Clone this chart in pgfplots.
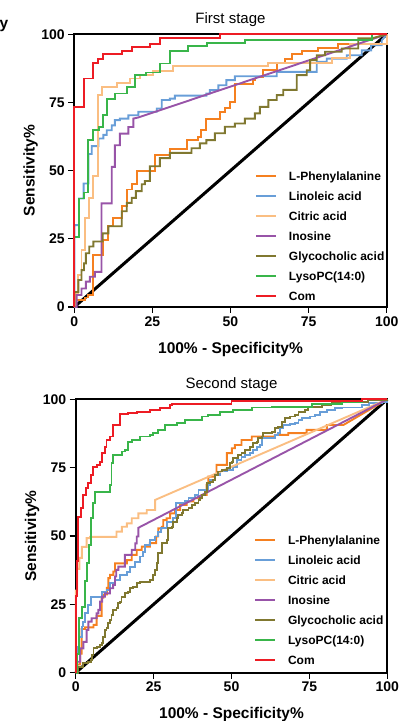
\documentclass[border=0pt]{standalone}
\usepackage{fontspec}
\setmainfont{Liberation Sans}
\usepackage{pgfplots}
\pgfplotsset{compat=1.18}
\definecolor{cRed}{RGB}{237,28,36}
\definecolor{cGreen}{RGB}{57,181,74}
\definecolor{cBlue}{RGB}{104,158,216}
\definecolor{cBeige}{RGB}{250,190,130}
\definecolor{cOrange}{RGB}{245,128,32}
\definecolor{cPurple}{RGB}{152,84,168}
\definecolor{cOlive}{RGB}{128,120,48}
\pgfplotsset{
  rocaxis/.style={
    scale only axis,
    xmin=0,xmax=100,ymin=0,ymax=100,
    xtick={0,25,50,75,100}, ytick={0,25,50,75,100},
    tick pos=left,
    tick align=outside, major tick length=6bp,
    tick style={line width=1.3bp, black},
    axis line style={line width=1.8bp, black},
    /pgf/number format/assume math mode=true,
    ticklabel style={font=\bfseries\fontsize{14bp}{14bp}\selectfont},
    every axis x label/.style={at={(axis description cs:0.5,-0.169)}, anchor=base},
    every axis y label/.style={at={(axis description cs:-0.1274,0.5)}, rotate=90, anchor=base},
    label style={font=\bfseries\fontsize{15.5bp}{16bp}\selectfont},
    every axis title/.style={at={(axis description cs:0.5,1.04)}, anchor=base},
    title style={font=\fontsize{15bp}{16bp}\selectfont},
    xlabel={100\% - Specificity\%},
    ylabel={Sensitivity\%},
    clip=false,
    every axis plot/.append style={line width=1.9bp, line join=miter},
    legend cell align=left,
    legend image code/.code={\draw[#1] (0bp,0bp) -- (20bp,0bp);},
  }
}
\begin{document}
\begin{tikzpicture}
\useasboundingbox (0,0) rectangle (406bp,721bp);
\node[anchor=base west, inner sep=0pt, font=\bfseries\fontsize{15.5bp}{16bp}\selectfont] at (-0.5bp,692.5bp) {y};
% ---------------- First stage ----------------
\begin{axis}[rocaxis, at={(74.3bp,414bp)}, anchor=south west,
  width=312.4bp, height=272.7bp, title={First stage},
  legend style={draw=none, fill=none, at={(rel axis cs:0.578,0.501)}, anchor=north west,
    inner sep=0pt, row sep=9.5bp, font=\bfseries\fontsize{12bp}{12bp}\selectfont,
    nodes={inner sep=0pt, text height=9.5bp, text depth=1bp},
    /tikz/every odd column/.append style={column sep=12bp}}]
\addplot[black, line width=3bp, forget plot] coordinates {(0,0) (100,100)};
% L-Phenylalanine
\addplot[cOrange] coordinates {(0,0) (0,2.5) (3.4,2.5) (3.4,3.5) (4.5,3.5) (4.5,4.3) (5.9,4.3) (5.9,19.1) (9.1,19.1) (9.1,24.6) (10.9,24.6) (10.9,29.6) (12.5,29.6) (12.5,32.6) (15.2,32.6) (15.2,36.9) (16.8,36.9) (16.8,43.1) (18.4,43.1) (18.4,45) (20,45) (20,49.9) (25.8,49.9) (25.8,55.9) (30.6,55.9) (30.6,58) (36,58) (36,61.2) (39.7,61.2) (39.7,62.4) (40.7,62.4) (40.7,64.8) (42.3,64.8) (42.3,69.1) (46.6,69.1) (46.6,71.5) (48.2,71.5) (48.2,73.1) (49.8,73.1) (49.8,75.2) (51.4,75.2) (51.4,81.9) (57.3,81.9) (57.3,83.2) (58,83.2) (58,84.4) (60.5,84.4) (60.5,86.8) (64.8,86.8) (64.8,89.5) (67.4,89.5) (67.4,91.1) (69.6,91.1) (69.6,92.7) (72.8,92.7) (72.8,93.9) (78.1,93.9) (78.1,95.1) (84.5,95.1) (84.5,96.6) (100,96.6) (100,100)};
\addlegendentry{L-Phenylalanine}
% Linoleic acid
\addplot[cBlue] coordinates {(0,0) (0,30) (1.5,30) (1.5,39.8) (3,39.8) (3,45.3) (4.5,45.3) (4.5,56.1) (5.6,56.1) (5.6,59) (7.7,59) (7.7,61.8) (9.3,61.8) (9.3,63.1) (10.4,63.1) (10.4,64.8) (12,64.8) (12,66.6) (13,66.6) (13,68.5) (14.6,68.5) (14.6,69.1) (17.3,69.1) (17.3,70.3) (20.5,70.3) (20.5,71.6) (26.4,71.6) (26.4,72.8) (28,72.8) (28,75.9) (30.6,75.9) (30.6,76.4) (32.2,76.4) (32.2,77.5) (42.3,77.5) (42.3,78.3) (43.4,78.3) (43.4,79.5) (46.1,79.5) (46.1,81.3) (48.7,81.3) (48.7,83.2) (51.4,83.2) (51.4,84.6) (64.8,84.6) (64.8,86.2) (77.6,86.2) (77.6,89.9) (80.8,89.9) (80.8,91.1) (87.2,91.1) (87.2,92.3) (92,92.3) (92,94.1) (95,94.1) (95,96) (98.4,96) (98.4,97.8) (100,100)};
\addlegendentry{Linoleic acid}
% Citric acid
\addplot[cBeige] coordinates {(0,0) (0.5,0) (0.5,5) (1.3,5) (1.3,11.7) (2.3,11.7) (2.3,20.9) (3.4,20.9) (3.4,32.6) (4.8,32.6) (4.8,40) (6.1,40) (6.1,48) (7.5,48) (7.5,77.7) (9,77.7) (9,80.7) (13.6,80.7) (13.6,82.2) (17.8,82.2) (17.8,83.8) (21,83.8) (21,85.2) (25.3,85.2) (25.3,86.6) (31.7,86.6) (31.7,88.3) (62.1,88.3) (62.1,89.5) (82.4,89.5) (82.4,91.2) (88.3,91.2) (88.3,96.5) (100,96.5) (100,100)};
\addlegendentry{Citric acid}
% Inosine
\addplot[cPurple] coordinates {(0,0) (0.76,0) (0.76,4.4) (2.3,4.4) (2.3,6.8) (3.7,6.8) (3.7,9.3) (5,9.3) (5,11.1) (6.6,11.1) (6.6,12.9) (8.7,12.9) (8.7,38) (12,38) (12,51.4) (13,51.4) (13,59.3) (14.6,59.3) (14.6,63.6) (17.3,63.6) (17.3,66) (18.9,66) (18.9,69.1) (20.5,69.5) (100,100)};
\addlegendentry{Inosine}
% Glycocholic acid
\addplot[cOlive] coordinates {(0,0) (0,5.5) (1.3,5.5) (1.3,9.9) (2.3,9.9) (2.3,13.5) (3.1,13.5) (3.1,16) (3.7,16) (3.7,19.7) (4.8,19.7) (4.8,22.2) (6.1,22.2) (6.1,24) (9.1,24) (9.1,27) (10.9,27) (10.9,29.6) (15.2,29.6) (15.2,35.1) (16.8,35.1) (16.8,38.2) (18.4,38.2) (18.4,40) (19.7,40) (19.7,42.5) (21.6,42.5) (21.6,45) (22.6,45) (22.6,46.2) (24.2,46.2) (24.2,51.6) (27.4,51.6) (27.4,54.6) (30.6,54.6) (30.6,56.5) (37.5,56.5) (37.5,58.2) (40.2,58.2) (40.2,60) (42.3,60) (42.3,61.2) (45,61.2) (45,63.7) (48.2,63.7) (48.2,66.1) (51.4,66.1) (51.4,67.3) (54.6,67.3) (54.6,69.1) (57.8,69.1) (57.8,71) (59.4,71) (59.4,73.4) (62.1,73.4) (62.1,75.9) (64.8,75.9) (64.8,77.7) (66.9,77.7) (66.9,79.6) (71.2,79.6) (71.2,85) (74.4,85) (74.4,86.8) (75.5,86.8) (75.5,90.5) (77.6,90.5) (77.6,92.3) (80.3,92.3) (80.3,93.6) (85.6,93.6) (85.6,94.8) (90.9,94.8) (90.9,98.5) (95.2,98.5) (100,100)};
\addlegendentry{Glycocholic acid}
% LysoPC(14:0)
\addplot[cGreen] coordinates {(0,0) (0,25.8) (1.6,25.8) (1.6,39.8) (3,39.8) (3,42) (4.5,42) (4.5,61.4) (5.9,61.4) (5.9,64.8) (8,64.8) (8,66) (9.3,66) (9.3,70.3) (10.6,70.3) (10.6,76.4) (13,76.4) (13,78.3) (16.8,78.3) (16.8,80.7) (19.4,80.7) (19.4,85.2) (23,85.2) (23,86) (27.4,86) (27.4,89.3) (30.6,89.3) (30.6,93.9) (36.5,93.9) (36.5,95.6) (42.4,95.6) (42.4,96.8) (54.6,96.8) (54.6,98) (95.2,98) (95.2,100) (100,100)};
\addlegendentry{LysoPC(14:0)}
% Com
\addplot[cRed] coordinates {(0,0) (0,73.5) (3,73.5) (3,83.8) (6.1,83.8) (6.1,89.6) (7.7,89.6) (7.7,91.1) (9.3,91.1) (9.3,92.7) (15.2,92.7) (15.2,93.9) (18.4,93.9) (18.4,95.4) (24.2,95.4) (24.2,96.6) (27.4,96.6) (27.4,98.8) (46.6,98.8) (46.6,100) (100,100)};
\addlegendentry{Com}
\end{axis}
% ---------------- Second stage ----------------
\begin{axis}[rocaxis, at={(75.7bp,48.3bp)}, anchor=south west,
  width=311.6bp, height=273.4bp, title={Second stage},
  legend style={draw=none, fill=none, at={(rel axis cs:0.572,0.504)}, anchor=north west,
    inner sep=0pt, row sep=9.5bp, font=\bfseries\fontsize{12bp}{12bp}\selectfont,
    nodes={inner sep=0pt, text height=9.5bp, text depth=1bp},
    /tikz/every odd column/.append style={column sep=12bp}}]
\addplot[black, line width=3bp, forget plot] coordinates {(0,0) (100,100)};
% L-Phenylalanine
\addplot[cOrange] coordinates {(0,0) (0.5,0) (0.5,3) (1.4,3) (1.4,7) (1.9,7) (1.9,16) (3,16) (3,16.6) (5.7,16.6) (5.7,17.5) (6.7,17.5) (6.7,20.8) (8.3,20.8) (8.3,27.4) (8.9,27.4) (8.9,28.6) (10,28.6) (10,31) (10.5,31) (10.5,34.6) (11,34.6) (11,35.8) (12.1,35.8) (12.1,37) (12.6,37) (12.6,40) (16.4,40) (16.4,41.2) (18,41.2) (18,43.1) (19.6,43.1) (19.6,44.9) (21.2,44.9) (21.2,46.1) (23.8,46.1) (23.8,47.4) (25.8,47.4) (25.8,49.8) (26.5,49.8) (26.5,52.8) (27.6,52.8) (27.6,53.4) (28.1,53.4) (28.1,55.8) (29.2,55.8) (29.2,56.5) (30.3,56.5) (30.3,58.3) (31.9,58.3) (31.9,59.5) (33.5,59.5) (33.5,61.4) (35.6,61.4) (35.6,62.6) (37.8,62.6) (37.8,63.8) (40.4,63.8) (40.4,65) (42,65) (42,68.7) (42.6,68.7) (42.6,71.7) (44.7,71.7) (44.7,72.4) (45.2,72.4) (45.2,76) (48.5,76) (48.5,80.3) (50.1,80.3) (50.1,82.1) (51.1,82.1) (51.1,83.3) (53.2,83.3) (53.2,85.1) (56.5,85.1) (56.5,86.4) (63.9,86.4) (63.9,87) (68.2,87) (68.2,87.6) (74.1,87.6) (74.1,88.8) (80.6,88.8) (80.6,90.6) (85.9,90.6) (100,100)};
\addlegendentry{L-Phenylalanine}
% Linoleic acid
\addplot[cBlue] coordinates {(0,0) (0.3,0) (0.3,5.9) (0.52,5.9) (0.52,9.5) (1.17,9.5) (1.17,13.2) (1.9,13.2) (1.9,16.9) (2.45,16.9) (2.45,18.7) (3,18.7) (3,21.7) (4.06,21.7) (4.06,24.8) (4.8,24.8) (4.8,27.8) (8.3,27.8) (8.3,29.6) (9.9,29.6) (9.9,30.3) (11,30.3) (11,32.7) (12.6,32.7) (12.6,33.9) (14.2,33.9) (14.2,35.7) (16.4,35.7) (16.4,36.9) (17.4,36.9) (17.4,38.8) (19,38.8) (19,40.6) (20.6,40.6) (20.6,42.5) (21.5,42.5) (21.5,44.3) (22.2,44.3) (22.2,46.7) (23.8,46.7) (23.8,48.6) (25.4,48.6) (25.4,49.8) (26.5,49.8) (26.5,51.6) (27.5,51.6) (27.5,53) (29.2,53) (29.2,55.2) (31.3,55.2) (31.3,56.5) (32.2,56.5) (32.2,62) (35.1,62) (35.1,62.8) (36.2,62.8) (36.2,64) (38.3,64) (38.3,65) (39.4,65) (39.4,66.8) (42.6,66.8) (42.6,68.7) (43.1,68.7) (43.1,70.5) (44.7,70.5) (44.7,72.4) (46.3,72.4) (46.3,73.6) (48.5,73.6) (48.5,74.2) (50.6,74.2) (50.6,75.4) (51.7,75.4) (51.7,77.8) (53.2,77.8) (53.2,79) (54.3,79) (54.3,79.7) (55.9,79.7) (55.9,80.3) (57,80.3) (57,81.5) (58.1,81.5) (58.1,82.7) (59.1,82.7) (59.1,83.3) (59.7,83.3) (59.7,85.8) (62.9,85.8) (62.9,86) (63.9,86) (63.9,87) (65,87) (65,87.6) (65.6,87.6) (65.6,89.4) (66.6,89.4) (66.6,90.6) (68.8,90.6) (68.8,90.9) (70.4,90.9) (70.4,91.2) (71.5,91.2) (71.5,92.5) (72.5,92.5) (72.5,93.1) (75.2,93.1) (75.2,93.7) (76.8,93.7) (76.8,94.3) (78.4,94.3) (78.4,95.5) (80.6,95.5) (80.6,96.1) (83.2,96.1) (83.2,96.7) (85.4,96.7) (85.4,97) (91.8,97) (91.8,97.9) (94,97.9) (94,98.5) (98.2,98.5) (98.2,99) (100,99) (100,100)};
\addlegendentry{Linoleic acid}
% Citric acid
\addplot[cBeige] coordinates {(0,0) (0,30) (0.5,30) (0.5,38) (1.2,38) (1.2,42) (2,42) (2,46) (3.5,46) (3.5,49.2) (4.6,49.2) (4.6,49.7) (13.1,49.7) (13.1,51.6) (14.8,51.6) (14.8,53.4) (16.4,53.4) (16.4,54.6) (18,54.6) (18,56.5) (20.1,56.5) (20.1,58.3) (22.8,58.3) (22.8,59.5) (25.5,59.5) (25.5,63.2) (100,100)};
\addlegendentry{Citric acid}
% Inosine
\addplot[cPurple] coordinates {(0,0) (0.5,0) (0.5,4) (1.4,4) (1.4,8.9) (2.45,8.9) (2.45,11.3) (3.5,11.3) (3.5,15.6) (4.06,15.6) (4.06,18.7) (5.1,18.7) (5.1,19.9) (6.7,19.9) (6.7,21.7) (7.3,21.7) (7.3,23) (7.8,23) (7.8,26) (8.5,26) (8.5,27.8) (9.4,27.8) (9.4,29) (11,29) (11,30.9) (12,30.9) (12,32.1) (12.6,32.1) (12.6,35.2) (13,35.2) (13,37.6) (13.7,37.6) (13.7,38.8) (15.8,38.8) (15.8,43.1) (18,43.1) (18,44.9) (19.1,44.9) (19.1,47.3) (19.6,47.3) (19.6,49.8) (20.1,49.8) (20.1,53) (100,100)};
\addlegendentry{Inosine}
% Glycocholic acid
\addplot[cOlive] coordinates {(0,0) (0.85,0) (0.85,2.2) (2.45,2.2) (2.45,3.4) (4.06,3.4) (4.06,4) (4.8,4) (4.8,4.6) (5.1,4.6) (5.1,6.5) (5.7,6.5) (5.7,8.9) (6.7,8.9) (6.7,9.5) (7.8,9.5) (7.8,10.1) (8.3,10.1) (8.3,10.7) (8.9,10.7) (8.9,13.2) (9.4,13.2) (9.4,15.6) (9.9,15.6) (9.9,16.2) (10.5,16.2) (10.5,18.1) (11,18.1) (11,19.3) (11.5,19.3) (11.5,21.1) (12.1,21.1) (12.1,23) (13.1,23) (13.1,23.6) (13.7,23.6) (13.7,25.4) (14.2,25.4) (14.2,26) (14.7,26) (14.7,27.8) (15.8,27.8) (15.8,29) (16.9,29) (16.9,29.6) (17.4,29.6) (17.4,30.9) (18.5,30.9) (18.5,31.5) (19.6,31.5) (19.6,32.7) (20.6,32.7) (20.6,33.3) (23.8,33.3) (23.8,33.9) (24.9,33.9) (24.9,35.7) (25.4,35.7) (25.4,37.6) (26,37.6) (26,40) (26.5,40) (26.5,43.7) (27.6,43.7) (27.6,47.3) (29.2,47.3) (29.2,48.5) (29.7,48.5) (29.7,52.8) (30.8,52.8) (30.8,53.4) (31.3,53.4) (31.3,55.2) (32.4,55.2) (32.4,56.5) (32.9,56.5) (32.9,57.7) (34,57.7) (34,58.3) (34.5,58.3) (34.5,59.5) (36.2,59.5) (36.2,60.1) (37.2,60.1) (37.2,61.4) (38.3,61.4) (38.3,62) (39.4,62) (39.4,63.2) (40,63.2) (40,63.8) (40.4,63.8) (40.4,65) (41.5,65) (41.5,66.2) (42,66.2) (42,69.3) (43.1,69.3) (43.1,69.9) (44.2,69.9) (44.2,70.5) (44.7,70.5) (44.7,72.4) (45.8,72.4) (45.8,73.6) (46.9,73.6) (46.9,74.2) (48.5,74.2) (48.5,74.8) (49.5,74.8) (49.5,76.6) (50.1,76.6) (50.1,77.2) (50.6,77.2) (50.6,78.4) (52.2,78.4) (52.2,79.7) (53.2,79.7) (53.2,80.3) (54.3,80.3) (54.3,81.5) (55.9,81.5) (55.9,82.7) (57,82.7) (57,83.9) (58.1,83.9) (58.1,84.5) (58.6,84.5) (58.6,85.8) (59.7,85.8) (59.7,86.4) (60.2,86.4) (60.2,87.6) (62.9,87.6) (62.9,88.2) (63.9,88.2) (63.9,89.4) (65,89.4) (65,90) (66.1,90) (66.1,91.8) (67.2,91.8) (67.2,93.1) (68.8,93.1) (68.8,93.7) (70.4,93.7) (70.4,94.3) (71.5,94.3) (71.5,95.5) (73.6,95.5) (73.6,96.1) (74.6,96.1) (74.6,97.3) (78.9,97.3) (78.9,97.9) (82.1,97.9) (82.1,98.5) (84.3,98.5) (84.3,98.9) (93.9,98.9) (93.9,99.7) (100,99.7) (100,100)};
\addlegendentry{Glycocholic acid}
% LysoPC(14:0)
\addplot[cGreen] coordinates {(0,0) (0.5,0) (0.5,7) (1.1,7) (1.1,20) (1.9,20) (1.9,24) (3,24) (3,33.4) (3.5,33.4) (3.5,40) (4.4,40) (4.4,46.7) (4.8,46.7) (4.8,56.5) (5.44,56.5) (5.44,62) (6.3,62) (6.3,66.2) (11,66.2) (11,68.7) (11.5,68.7) (11.5,76.6) (12.1,76.6) (12.1,79.6) (14.8,79.6) (14.8,80.9) (15.9,80.9) (15.9,81.5) (16.9,81.5) (16.9,84.5) (18,84.5) (18,85.1) (20.6,85.1) (20.6,86.4) (23.8,86.4) (23.8,87) (24.9,87) (24.9,87.6) (26.5,87.6) (26.5,88.8) (28.6,88.8) (28.6,90.6) (32.4,90.6) (32.4,91.2) (35.1,91.2) (35.1,92.5) (40.4,92.5) (40.4,93.7) (42.6,93.7) (42.6,94.3) (46.3,94.3) (46.3,95.5) (50.6,95.5) (50.6,96.1) (56.5,96.1) (56.5,97) (62.9,97) (62.9,97.3) (75.7,97.3) (75.7,98.2) (85.4,98.2) (85.4,98.9) (91.8,98.9) (91.8,100) (100,100)};
\addlegendentry{LysoPC(14:0)}
% Com
\addplot[cRed] coordinates {(0,0) (0,28) (0.3,28) (0.3,41) (0.85,41) (0.85,57.1) (1.7,57.1) (1.7,60.1) (2.45,60.1) (2.45,65) (3.3,65) (3.3,67.4) (4.06,67.4) (4.06,69.3) (4.8,69.3) (4.8,72.3) (5.66,72.3) (5.66,75.4) (6.7,75.4) (6.7,76) (7.8,76) (7.8,77.2) (8.5,77.2) (8.5,80.3) (9.4,80.3) (9.4,82.7) (9.9,82.7) (9.9,85.1) (11,85.1) (11,86.4) (12.1,86.4) (12.1,90.6) (14.2,90.6) (14.2,94.5) (16.9,94.5) (16.9,94.9) (19.6,94.9) (19.6,95.5) (23.8,95.5) (23.8,96.1) (27,96.1) (27,96.7) (30.3,96.7) (30.3,97.9) (30.8,97.9) (30.8,98.4) (50,98.4) (50,99.3) (91.8,99.3) (91.8,100) (100,100)};
\addlegendentry{Com}
\end{axis}
\end{tikzpicture}
\end{document}
